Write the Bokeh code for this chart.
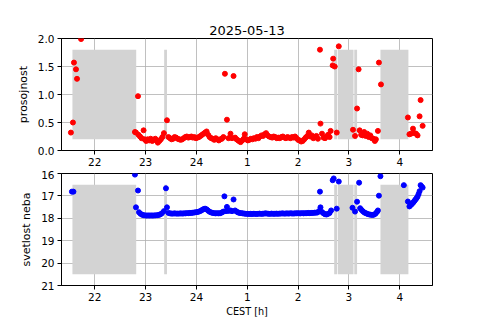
from bokeh.plotting import figure
from bokeh.layouts import column
from bokeh.models import Range1d, FixedTicker, PrintfTickFormatter
from bokeh.embed import file_html
from bokeh.resources import INLINE

# ---------------- data ----------------
title_text = "2025-05-13"
x_ticks = [22, 23, 24, 25, 26, 27, 28]
x_labels = ["22", "23", "24", "1", "2", "3", "4"]
top_yticks = [0, 0.5, 1.0, 1.5, 2.0]
bot_yticks = [16, 17, 18, 19, 20, 21]

# grey (cloud / gap) bands, hours (24+ = after midnight)
band_left = [21.56, 23.365, 26.71, 26.785, 27.105, 27.62]
band_right = [22.815, 23.42, 26.77, 27.09, 27.16, 28.17]
band_top_lo, band_top_hi = 0.2, 1.8
band_bot_lo, band_bot_hi = 16.5, 20.5

t_top = [21.53, 21.57, 21.59, 21.63, 21.65, 21.73,
         22.79, 22.81, 22.85, 22.86, 22.89, 22.92, 22.96, 22.98,
         23.01, 23.04, 23.07, 23.10, 23.13, 23.16, 23.19, 23.22, 23.24, 23.27,
         23.30, 23.33, 23.36, 23.42, 23.45, 23.48, 23.51, 23.54, 23.57, 23.60,
         23.63, 23.66, 23.69, 23.72, 23.75, 23.78, 23.81, 23.84, 23.87, 23.90,
         23.93, 23.96, 23.99, 24.02, 24.05, 24.08, 24.11, 24.14, 24.17, 24.20,
         24.23, 24.26, 24.29, 24.32, 24.35, 24.38, 24.41, 24.44, 24.47, 24.50,
         24.53, 24.56, 24.60, 24.63, 24.67, 24.70, 24.73, 24.76, 24.79, 24.82,
         24.85, 24.87, 24.90, 24.93, 24.95, 24.98, 25.01, 25.04, 25.07, 25.10,
         25.13, 25.16, 25.19, 25.22, 25.25, 25.28, 25.31, 25.34, 25.37, 25.40,
         25.43, 25.46, 25.49, 25.52, 25.55, 25.58, 25.61, 25.64, 25.67, 25.70,
         25.73, 25.76, 25.79, 25.82, 25.85, 25.88, 25.91, 25.94, 25.97, 26.00,
         26.03, 26.06, 26.09, 26.12, 26.15, 26.18, 26.21, 26.24, 26.27, 26.30,
         26.33, 26.36, 26.39, 26.43, 26.44, 26.47, 26.50, 26.53, 26.56, 26.59,
         26.62, 26.64, 26.68, 26.69, 26.72, 26.76, 26.80,
         27.08, 27.12, 27.16, 27.19, 27.21, 27.24, 27.27, 27.30, 27.33, 27.36,
         27.39, 27.42, 27.45, 27.48, 27.51, 27.53, 27.57, 27.59, 27.63,
         28.16, 28.19, 28.22, 28.26, 28.29, 28.32, 28.35, 28.39, 28.41, 28.45]
prosojnost = [0.32, 0.50, 1.57, 1.45, 1.28, 1.99,
              0.33, 0.32, 0.97, 0.28, 0.25, 0.22, 0.36, 0.20,
              0.17, 0.20, 0.18, 0.21, 0.17, 0.19, 0.21, 0.18, 0.14, 0.17,
              0.20, 0.24, 0.31, 0.54, 0.24, 0.22, 0.20, 0.21, 0.24, 0.23,
              0.21, 0.20, 0.19, 0.20, 0.22, 0.24, 0.25, 0.23, 0.24, 0.25,
              0.23, 0.24, 0.22, 0.23, 0.24, 0.26, 0.28, 0.30, 0.32, 0.34,
              0.28, 0.24, 0.22, 0.21, 0.19, 0.22, 0.20, 0.18, 0.20, 0.21,
              0.24, 1.37, 0.55, 0.22, 0.30, 0.22, 1.33, 0.23, 0.20, 0.18,
              0.16, 0.15, 0.18, 0.21, 0.29, 0.20, 0.18, 0.19, 0.21, 0.20,
              0.22, 0.21, 0.24, 0.22, 0.25, 0.27, 0.26, 0.29, 0.31, 0.27,
              0.25, 0.24, 0.23, 0.25, 0.24, 0.22, 0.23, 0.22, 0.24, 0.25,
              0.23, 0.22, 0.24, 0.23, 0.22, 0.24, 0.23, 0.25, 0.22, 0.19,
              0.18, 0.16, 0.17, 0.20, 0.23, 0.26, 0.32, 0.25, 0.27, 0.22,
              0.24, 0.26, 0.21, 1.80, 0.48, 0.30, 0.23, 0.22, 0.25, 0.28,
              0.24, 0.35, 1.52, 1.64, 1.50, 0.32, 1.86,
              0.37, 0.26, 0.75, 1.45, 0.36, 0.28, 0.27, 0.33, 0.26, 0.30,
              0.24, 0.27, 0.22, 0.21, 0.17, 0.20, 0.35, 1.57, 1.18,
              0.59, 0.29, 0.30, 0.39, 0.31, 0.30, 0.27, 0.61, 0.90, 0.44]

t_bot = [21.55, 21.58,
         22.79, 22.81, 22.85, 22.87, 22.90, 22.93, 22.96, 22.99,
         23.02, 23.05, 23.08, 23.11, 23.14, 23.17, 23.20, 23.23, 23.26, 23.29,
         23.32, 23.36, 23.40, 23.42, 23.45, 23.48, 23.51, 23.54, 23.57, 23.60,
         23.63, 23.66, 23.69, 23.72, 23.75, 23.78, 23.81, 23.84, 23.87, 23.90,
         23.93, 23.96, 23.99, 24.02, 24.05, 24.08, 24.11, 24.14, 24.17, 24.20,
         24.23, 24.26, 24.29, 24.32, 24.35, 24.38, 24.41, 24.44, 24.47, 24.50,
         24.53, 24.55, 24.58, 24.60, 24.63, 24.67, 24.70, 24.73, 24.76, 24.79,
         24.82, 24.85, 24.88, 24.91, 24.94, 24.97, 25.00, 25.03, 25.06, 25.09,
         25.12, 25.15, 25.18, 25.21, 25.24, 25.27, 25.30, 25.33, 25.36, 25.39,
         25.42, 25.45, 25.48, 25.51, 25.54, 25.57, 25.60, 25.63, 25.66, 25.69,
         25.72, 25.75, 25.78, 25.81, 25.84, 25.87, 25.90, 25.93, 25.96, 25.99,
         26.02, 26.05, 26.08, 26.11, 26.14, 26.17, 26.20, 26.23, 26.26, 26.29,
         26.32, 26.35, 26.38, 26.41, 26.43, 26.44, 26.47, 26.50, 26.53, 26.56,
         26.59, 26.62, 26.65, 26.68, 26.70, 26.76, 26.80,
         27.07, 27.12, 27.16, 27.20, 27.22, 27.25, 27.28, 27.31, 27.34, 27.37,
         27.40, 27.43, 27.46, 27.49, 27.52, 27.55, 27.57, 27.59, 27.62,
         28.08, 28.16, 28.19, 28.21, 28.23, 28.25, 28.27, 28.29, 28.31, 28.33,
         28.35, 28.37, 28.39, 28.41, 28.43, 28.45]
svetlost = [16.81, 16.81,
            16.05, 17.51, 16.76, 17.73, 17.80, 17.84, 17.86, 17.87,
            17.88, 17.87, 17.88, 17.87, 17.88, 17.87, 17.87, 17.86, 17.85, 17.82,
            17.78, 17.68, 16.66, 17.51, 17.76, 17.78, 17.79, 17.79, 17.78, 17.79,
            17.79, 17.79, 17.78, 17.79, 17.78, 17.78, 17.77, 17.77, 17.76, 17.76,
            17.75, 17.74, 17.73, 17.72, 17.70, 17.67, 17.63, 17.59, 17.57, 17.60,
            17.66, 17.71, 17.74, 17.76, 17.77, 17.78, 17.77, 17.78, 17.77, 17.74,
            17.70, 17.02, 17.68, 17.49, 17.67, 17.65, 17.68, 17.16, 17.65, 17.70,
            17.74, 17.76, 17.77, 17.78, 17.79, 17.80, 17.80, 17.81, 17.80, 17.81,
            17.80, 17.80, 17.81, 17.80, 17.79, 17.80, 17.80, 17.79, 17.78, 17.79,
            17.80, 17.80, 17.79, 17.80, 17.80, 17.79, 17.80, 17.79, 17.79, 17.78,
            17.79, 17.79, 17.78, 17.79, 17.78, 17.78, 17.79, 17.78, 17.78, 17.77,
            17.78, 17.78, 17.77, 17.78, 17.77, 17.77, 17.76, 17.77, 17.76, 17.76,
            17.75, 17.75, 17.74, 17.68, 16.81, 17.51, 17.72, 17.78, 17.82, 17.83,
            17.80, 17.76, 17.65, 16.30, 16.22, 17.57, 16.36,
            17.53, 17.70, 17.26, 16.41, 17.55, 17.63, 17.70, 17.75, 17.78, 17.81,
            17.83, 17.84, 17.85, 17.84, 17.80, 17.72, 17.65, 16.99, 16.12,
            16.52, 17.25, 17.47, 17.42, 17.38, 17.33, 17.28, 17.22, 17.16, 17.10,
            17.03, 16.92, 16.79, 16.52, 16.58, 16.63]

# ---------------- styling ----------------
FONT = "DejaVu Sans"
X_RANGE = (21.345, 28.644)


def style(p):
    p.outline_line_color = "black"
    p.outline_line_width = 1
    p.outline_line_alpha = 1
    p.background_fill_color = "white"
    p.border_fill_color = "white"
    for ax in p.axis:
        ax.major_tick_out = 4
        ax.major_tick_in = 0
        ax.minor_tick_line_color = None
        ax.axis_line_color = "black"
        ax.major_tick_line_color = "black"
        ax.major_label_text_font = FONT
        ax.major_label_text_font_size = "10.5px"
        ax.major_label_text_color = "black"
        ax.major_label_standoff = 3
        ax.axis_label_text_font = FONT
        ax.axis_label_text_font_style = "normal"
        ax.axis_label_text_color = "black"
        ax.axis_label_text_font_size = "11px"
        ax.axis_label_standoff = 5
    p.xaxis.ticker = FixedTicker(ticks=x_ticks)
    p.xaxis.major_label_overrides = dict(zip(x_ticks, x_labels))
    p.grid.grid_line_color = "#b0b0b0"
    p.grid.grid_line_width = 0.8


p1 = figure(width=480, height=170, output_backend="svg", toolbar_location=None,
            x_range=Range1d(*X_RANGE), y_range=Range1d(0, 2),
            min_border_left=61, min_border_right=48, min_border_top=38,
            min_border_bottom=20)
p1.title.text = title_text
p1.title.align = "center"
p1.title.text_font = FONT
p1.title.text_font_size = "13px"
p1.title.text_font_style = "normal"
p1.title.text_color = "black"
p1.title.standoff = 7
style(p1)
p1.yaxis.ticker = FixedTicker(ticks=top_yticks)
p1.yaxis.formatter = PrintfTickFormatter(format="%.1f")
p1.yaxis.axis_label = "prosojnost"
p1.quad(left=band_left, right=band_right, bottom=band_top_lo, top=band_top_hi,
        fill_color="#d3d3d3", line_color=None)
p1.scatter(t_top, prosojnost, size=5, fill_color="red", line_color="red")

p2 = figure(width=480, height=150, output_backend="svg", toolbar_location=None,
            x_range=p1.x_range, y_range=Range1d(21, 16),
            min_border_left=61, min_border_right=48, min_border_top=3,
            min_border_bottom=35)
style(p2)
p2.yaxis.ticker = FixedTicker(ticks=bot_yticks)
p2.yaxis.axis_label = "svetlost neba"
p2.xaxis.axis_label = "CEST [h]"
p2.xaxis.axis_label_text_font_size = "9.7px"
p2.xaxis.axis_label_standoff = 2
p2.quad(left=band_left, right=band_right, bottom=band_bot_lo, top=band_bot_hi,
        fill_color="#d3d3d3", line_color=None)
p2.scatter(t_bot, svetlost, size=5, fill_color="blue", line_color="blue")

layout = column(p1, p2)
open("out.html", "w").write(file_html(layout, INLINE))
